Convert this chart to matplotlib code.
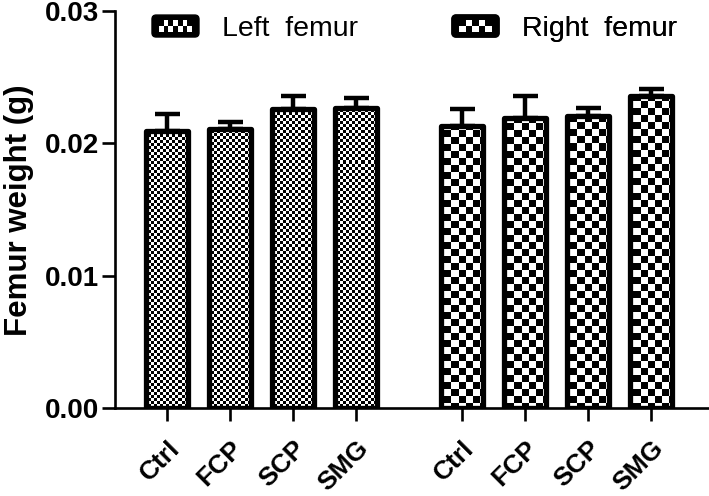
import numpy as np
import matplotlib
matplotlib.use("Agg")
import matplotlib.pyplot as plt
from matplotlib.patches import FancyBboxPatch, Rectangle
from matplotlib.legend_handler import HandlerBase

# ---- data ----
groups = ["Ctrl", "FCP", "SCP", "SMG"]
left_mean = [0.0209, 0.0211, 0.0226, 0.0227]
left_err = [0.0013, 0.0005, 0.0010, 0.0007]
right_mean = [0.0213, 0.0219, 0.0221, 0.0236]
right_err = [0.0013, 0.0017, 0.0006, 0.0005]
series_labels = ["Left  femur", "Right  femur"]
yticks = [0.00, 0.01, 0.02, 0.03]

plt.rcParams['font.family'] = ['Liberation Sans', 'DejaVu Sans']

fig = plt.figure(figsize=(7.09, 4.96), dpi=100)
ax = fig.add_axes([0.1622, 0.1774, 0.8364, 0.8004])

n = len(groups)
x_left = np.arange(n)
x_right = np.arange(n) + n + 0.68
width = 0.67

ax.set_xlim(-0.83, 8.59)
ax.set_ylim(0, 0.03)


def checker(cell, ax):
    fig.canvas.draw()
    bb = ax.get_window_extent()
    W, H = bb.width, bb.height
    cols = int(np.ceil(W / cell))
    rows = int(np.ceil(H / cell))
    arr = (np.add.outer(np.arange(rows), np.arange(cols)) % 2).astype(float)
    ext_w = cols * cell / W
    ext_h = rows * cell / H
    return arr, (0, ext_w, 1 - ext_h, 1)


for xs, means, errs, cell in [(x_left, left_mean, left_err, 3),
                              (x_right, right_mean, right_err, 7)]:
    ax.errorbar(xs, means, yerr=[np.zeros(n), errs], fmt='none', ecolor='black',
                elinewidth=3.2, capsize=9, capthick=3.2, zorder=1)
    bars = ax.bar(xs, means, width=width, facecolor='none', edgecolor='black',
                  linewidth=3.8, joinstyle='round', zorder=4)
    arr, ext = checker(cell, ax)
    for b in bars:
        im = ax.imshow(arr, cmap='gray', vmin=0, vmax=1, interpolation='nearest',
                       extent=ext, transform=ax.transAxes, aspect='auto', zorder=3)
        im.set_clip_path(b)
ax.set_aspect('auto')
ax.set_xlim(-0.83, 8.59)
ax.set_ylim(0, 0.03)

ax.set_xticks(list(x_left) + list(x_right))
ax.set_xticklabels(groups + groups, rotation=45, ha='right',
                   rotation_mode='anchor', fontsize=19, fontweight='bold')
ax.set_yticks(yticks)
ax.set_yticklabels([f"{v:.2f}" for v in yticks], fontsize=20, fontweight='bold')
ax.set_ylabel("Femur weight (g)", fontsize=22.5, fontweight='bold')
ax.yaxis.set_label_coords(-0.136, 0.499)

for s in ['top', 'right']:
    ax.spines[s].set_visible(False)
for s in ['left', 'bottom']:
    ax.spines[s].set_linewidth(1.9)
ax.tick_params(axis='both', width=1.9, length=9.5)
ax.tick_params(axis='x', pad=11)
ax.tick_params(axis='y', pad=2)


class CheckerHandler(HandlerBase):
    def __init__(self, rows, cols):
        super().__init__()
        self.rows = rows
        self.cols = cols

    def create_artists(self, legend, orig_handle, xdescent, ydescent, width,
                       height, fontsize, trans):
        arts = []
        box = FancyBboxPatch((-xdescent, -ydescent), width, height,
                             boxstyle="round,pad=0,rounding_size=3",
                             facecolor='black', edgecolor='black', transform=trans)
        arts.append(box)
        inset_x = width * 0.15
        inset_y = height * 0.22
        cw = (width - 2 * inset_x) / self.cols
        ch = (height - 2 * inset_y) / self.rows
        for r in range(self.rows):
            for c in range(self.cols):
                if (r + c) % 2 == 0:
                    arts.append(Rectangle((-xdescent + inset_x + c * cw,
                                           -ydescent + inset_y + r * ch), cw, ch,
                                          facecolor='white', edgecolor='none',
                                          transform=trans))
        return arts


h1 = Rectangle((0, 0), 1, 1)
h2 = Rectangle((0, 1), 1, 1)
leg_fs = 20.5
for h, lab, xa, hm in [(h1, series_labels[0], (152 - 115) / 593, CheckerHandler(2, 7)),
                       (h2, series_labels[1], (452 - 115) / 593, CheckerHandler(2, 5))]:
    lg = ax.legend([h], [lab], loc='center left', bbox_to_anchor=(xa, 0.956),
                   frameon=False, fontsize=leg_fs, borderpad=0, borderaxespad=0,
                   handlelength=1.65, handleheight=0.81, handletextpad=0.8,
                   handler_map={h: hm})
    ax.add_artist(lg)

fig.savefig("out.png", dpi=100)
